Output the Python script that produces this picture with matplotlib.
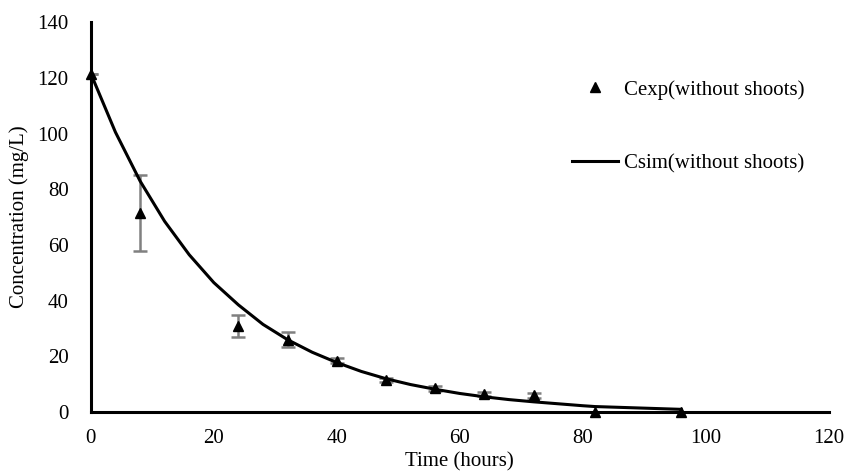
import matplotlib
matplotlib.use("Agg")
import matplotlib.pyplot as plt

# experimental points (without shoots)
t_exp = [0, 8, 24, 32, 40, 48, 56, 64, 72, 82, 96]
c_exp = [121.5, 71.5, 31, 26, 18.5, 11.5, 8.5, 6.5, 6, 0, 0]
c_err = [0, 13.5, 4, 2.8, 0.8, 0.8, 0.8, 0.6, 0.8, 0, 0]

# simulated curve
t_sim = [0, 4, 8, 12, 16, 20, 24, 28, 32, 36, 40, 44, 48, 52, 56, 60, 64, 68, 72, 76, 80, 82, 96]
c_sim = [121.5, 100.5, 83, 68.5, 56.5, 46.5, 38.5, 31.5, 26, 21.5, 17.8, 14.6, 12, 9.9, 8.2,
         6.7, 5.5, 4.5, 3.7, 3.0, 2.3, 2.0, 1.0]

plt.rcParams['font.family'] = ['Liberation Serif', 'DejaVu Serif']
plt.rcParams['font.size'] = 15

fig = plt.figure(figsize=(8.49, 4.71), dpi=100)
ax = fig.add_axes([0.107, 0.125, 0.869, 0.828])

ax.errorbar(t_exp, c_exp, yerr=c_err, fmt='none', ecolor='#808080',
            elinewidth=1.8, capsize=5, capthick=1.8, zorder=2)
ax.plot(t_exp, c_exp, linestyle='none', marker='^', markersize=7.5,
        color='black', label='Cexp(without shoots)', zorder=5, clip_on=False)
ax.plot(t_sim, c_sim, color='black', linewidth=2.2,
        label='Csim(without shoots)', zorder=4)

ax.set_xlim(0, 120)
ax.set_ylim(0, 140)
ax.set_xticks(range(0, 121, 20))
ax.set_yticks(range(0, 141, 20))
ax.tick_params(length=0)
ax.tick_params(axis='y', pad=16)
ax.tick_params(axis='x', pad=12)

for s in ['top', 'right']:
    ax.spines[s].set_visible(False)
for s in ['left', 'bottom']:
    ax.spines[s].set_linewidth(2.2)
    ax.spines[s].set_zorder(3)

ax.set_xlabel('Time (hours)', labelpad=3)
ax.set_ylabel('Concentration (mg/L)', labelpad=6)

ax.legend(loc='upper left', bbox_to_anchor=(0.652, 0.87), bbox_transform=fig.transFigure,
          frameon=False, handlelength=2.2, handletextpad=0.3, labelspacing=2.6)

fig.savefig('out.png', dpi=100)
